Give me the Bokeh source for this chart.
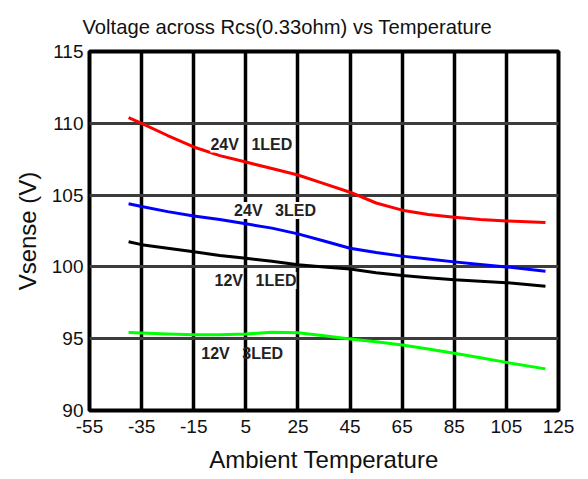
from bokeh.plotting import figure
from bokeh.models import FixedTicker, Label, Range1d
from bokeh.embed import file_html
from bokeh.resources import INLINE

# ---- data ----
temps = [-40, -35, -25, -15, -5, 5, 15, 25, 35, 45, 55, 65, 75, 85, 95, 105, 120]
v_24v_1led = [110.4, 110.0, 109.15, 108.35, 107.75, 107.3, 106.85, 106.4, 105.8, 105.2, 104.45, 103.95, 103.65, 103.45, 103.3, 103.2, 103.1]
v_24v_3led = [104.4, 104.2, 103.85, 103.55, 103.3, 103.0, 102.7, 102.3, 101.8, 101.3, 101.0, 100.75, 100.55, 100.35, 100.17, 100.0, 99.7]
v_12v_1led = [101.75, 101.55, 101.3, 101.05, 100.8, 100.6, 100.4, 100.15, 100.0, 99.85, 99.6, 99.4, 99.25, 99.1, 99.0, 98.9, 98.65]
v_12v_3led = [95.44, 95.4, 95.33, 95.28, 95.28, 95.32, 95.45, 95.42, 95.2, 94.98, 94.78, 94.56, 94.28, 93.98, 93.67, 93.35, 92.9]

series_values = [v_24v_1led, v_24v_3led, v_12v_1led, v_12v_3led]
series_colors = ["#ff0000", "#0000ff", "#000000", "#00ff00"]
series_voltage = ["24V", "24V", "12V", "12V"]
series_led = ["1LED", "3LED", "1LED", "3LED"]
label_x = [-8.6, 0.5, -7.0, -12.1]
label_y = [108.55, 103.93, 99.05, 93.96]
label_bg = ["white", "white", "white", None]

x_ticks = [-55, -35, -15, 5, 25, 45, 65, 85, 105, 125]
y_ticks = [90, 95, 100, 105, 110, 115]
x_tick_labels = {t: str(t) for t in x_ticks}

FONT = "Liberation Sans"

p = figure(width=588, height=479, output_backend="svg", toolbar_location=None,
           x_range=Range1d(-55, 125), y_range=Range1d(90, 115),
           min_border_left=89, min_border_right=30, min_border_top=50, min_border_bottom=69,
           title="Voltage across Rcs(0.33ohm) vs Temperature")

p.background_fill_color = "white"
p.border_fill_color = "white"
p.outline_line_color = "black"
p.outline_line_width = 4

p.title.text_font = FONT
p.title.text_font_size = "20.2px"
p.title.text_font_style = "normal"
p.title.text_color = "#111111"
p.title.align = "left"
p.title.offset = -7
p.title.standoff = 27

for ax in (p.xaxis, p.yaxis):
    ax.axis_line_color = None
    ax.major_tick_line_color = None
    ax.minor_tick_line_color = None
    ax.major_tick_out = 0
    ax.major_tick_in = 0
    ax.major_label_text_font = FONT
    ax.major_label_text_font_size = "19px"
    ax.major_label_text_color = "#111111"
    ax.axis_label_text_font = FONT
    ax.axis_label_text_font_size = "24px"
    ax.axis_label_text_font_style = "normal"
    ax.axis_label_text_color = "#111111"

p.xaxis.ticker = FixedTicker(ticks=x_ticks)
p.yaxis.ticker = FixedTicker(ticks=y_ticks)
p.xaxis.major_label_overrides = x_tick_labels
p.xaxis.axis_label = "Ambient Temperature"
p.yaxis.axis_label = "Vsense (V)"
p.xaxis.major_label_standoff = 9
p.yaxis.major_label_standoff = 6
p.xaxis.axis_label_standoff = 10
p.yaxis.axis_label_standoff = 8

p.xgrid.ticker = FixedTicker(ticks=x_ticks)
p.ygrid.ticker = FixedTicker(ticks=y_ticks)
p.xgrid.grid_line_color = "black"
p.xgrid.grid_line_width = 3.5
p.ygrid.grid_line_color = "#3c3c3c"
p.ygrid.grid_line_width = 3

for vals, col in zip(series_values, series_colors):
    p.line(temps, vals, line_color=col, line_width=3, line_join="round")

for v, led, lx, ly, bg in zip(series_voltage, series_led, label_x, label_y, label_bg):
    for txt, off in ((v, 0), (led, 41)):
        p.add_layout(Label(x=lx, y=ly, x_offset=off, text=txt,
                           text_font=FONT, text_font_size="16px", text_font_style="bold",
                           text_color="#222222", text_baseline="middle", text_align="left",
                           background_fill_color=bg))

open("out.html", "w").write(file_html(p, INLINE))
